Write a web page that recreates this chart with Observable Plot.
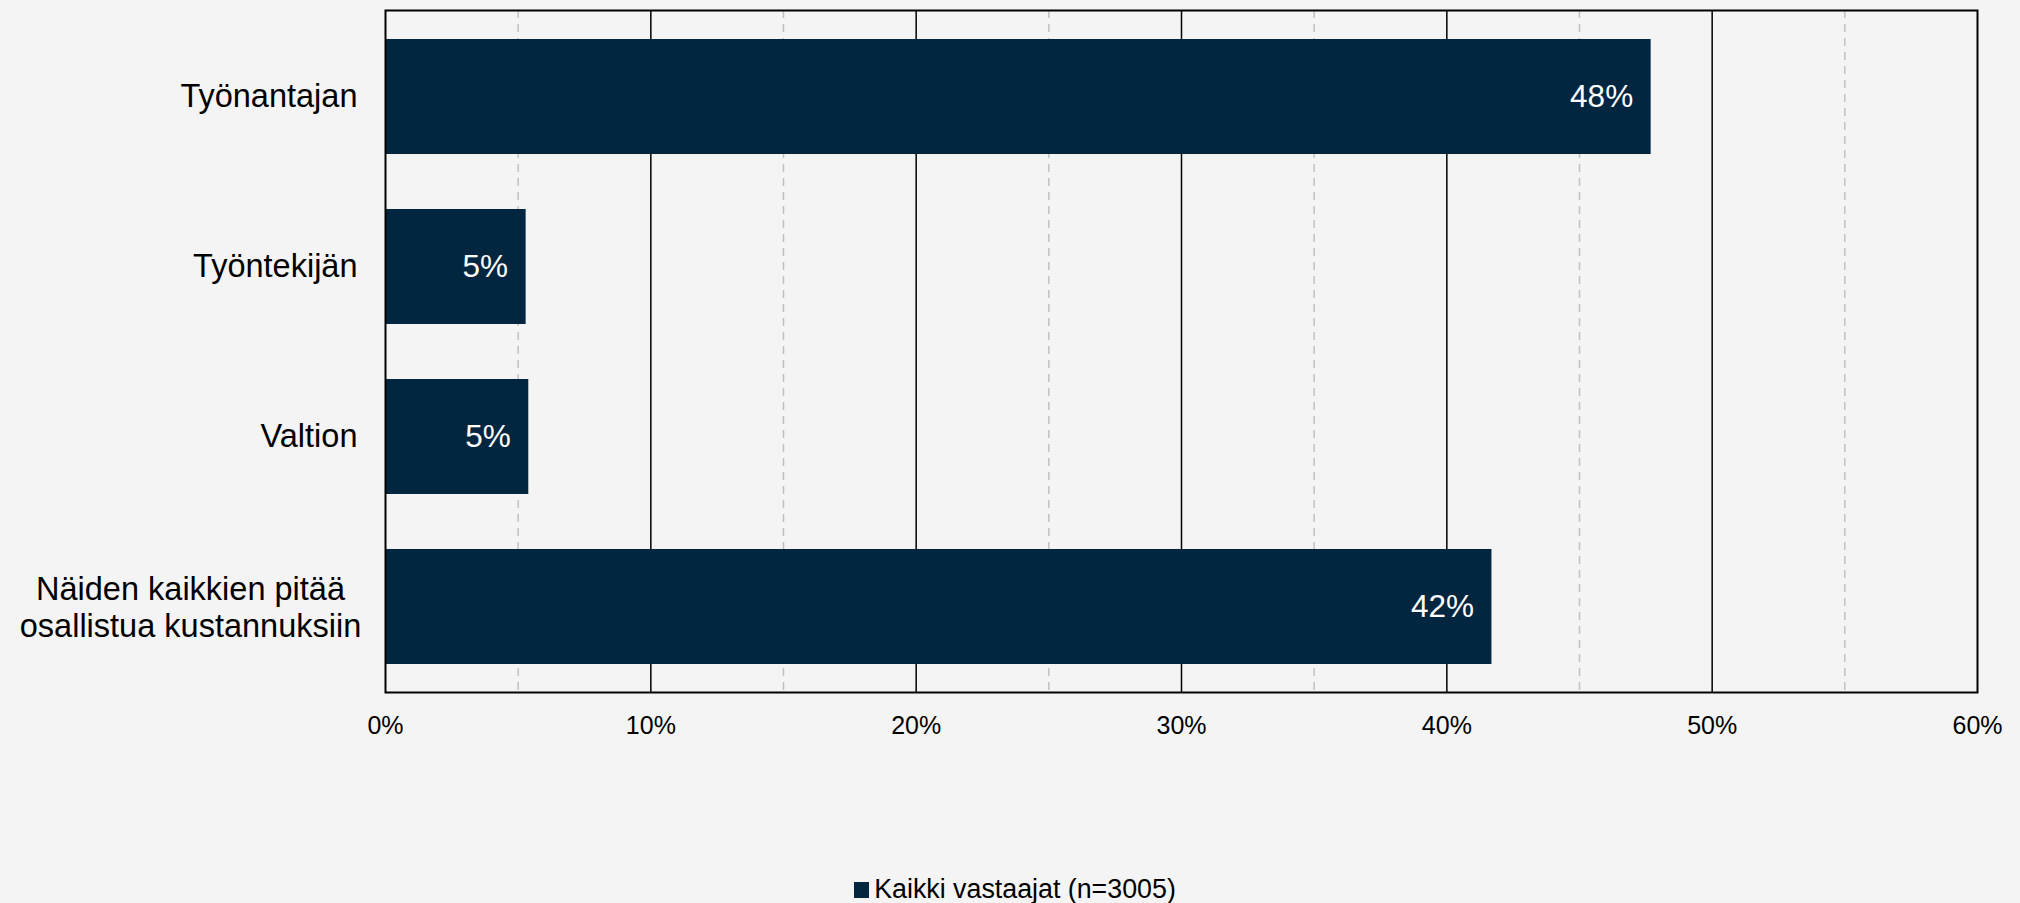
<!DOCTYPE html>
<html>
<head>
<meta charset="utf-8">
<script src="https://cdn.jsdelivr.net/npm/d3@7"></script>
<script src="https://cdn.jsdelivr.net/npm/@observablehq/plot@0.6"></script>
<style>
  html, body { margin: 0; padding: 0; background: #f4f4f4; }
  body { width: 2020px; height: 903px; overflow: hidden; font-family: "Liberation Sans", Arial, sans-serif; }
  #legend { height: 63px; display: flex; justify-content: center; align-items: flex-start; }
  #legend .item { display: flex; align-items: center; margin-top: 34px; margin-left: 10px; font-size: 26.8px; color: #000; }
  #legend .sw { width: 15px; height: 16px; margin-right: 5px; }
</style>
</head>
<body>
<div id="chart"></div>
<div id="legend"></div>
<script>
const categories = ["Työnantajan", "Työntekijän", "Valtion", "Näiden kaikkien pitää\nosallistua kustannuksiin"];
const values = [0.477, 0.053, 0.054, 0.417];
const seriesName = "Kaikki vastaajat (n=3005)";
const xTicks = [0, 0.1, 0.2, 0.3, 0.4, 0.5, 0.6];
const majorGrid = [0.1, 0.2, 0.3, 0.4, 0.5];
const minorGrid = [0.05, 0.15, 0.25, 0.35, 0.45, 0.55];

const barColor = "#02263f";
const data = categories.map((c, i) => ({category: c, value: values[i]}));
const single = data.filter(d => !d.category.includes("\n"));
const multi = data.filter(d => d.category.includes("\n"));
const pct = d3.format(".0%");

const chart = Plot.plot({
  width: 2020,
  height: 840,
  marginLeft: 385,
  marginRight: 43,
  marginTop: 10,
  marginBottom: 148,
  style: {background: "#f4f4f4", fontFamily: "'Liberation Sans', Arial, sans-serif", color: "#000"},
  x: {domain: [0, 0.6], ticks: xTicks, tickFormat: d3.format(".0%"), label: null},
  y: {domain: categories, paddingInner: 0.325, paddingOuter: 0.1625, axis: null, label: null},
  marks: [
    Plot.ruleX(minorGrid, {stroke: "#c0c0c0", strokeWidth: 1.5, strokeDasharray: "8,6"}),
    Plot.ruleX(majorGrid, {stroke: "#000", strokeWidth: 1.5}),
    Plot.barX(data, {x: "value", y: "category", fill: barColor}),
    Plot.frame({stroke: "#000", strokeWidth: 2}),
    Plot.axisX({ticks: xTicks, tickSize: 0, tickPadding: 24, fontSize: 25, tickFormat: d3.format(".0%"), label: null}),
    Plot.text(single, {x: 0, y: "category", text: "category", textAnchor: "end", dx: -28, fontSize: 32.5, fill: "#000"}),
    Plot.text(multi, {x: 0, y: "category", text: "category", textAnchor: "middle", dx: -195, fontSize: 32.5, lineHeight: 1.12, fill: "#000"}),
    Plot.text(data, {x: "value", y: "category", text: d => pct(d.value), textAnchor: "end", dx: -18, fontSize: 31.5, fill: "#fff"})
  ]
});
document.getElementById("chart").appendChild(chart);

const legend = document.getElementById("legend");
const item = document.createElement("div");
item.className = "item";
const sw = document.createElement("span");
sw.className = "sw";
sw.style.background = barColor;
const label = document.createElement("span");
label.textContent = seriesName;
item.appendChild(sw);
item.appendChild(label);
legend.appendChild(item);
</script>
</body>
</html>
